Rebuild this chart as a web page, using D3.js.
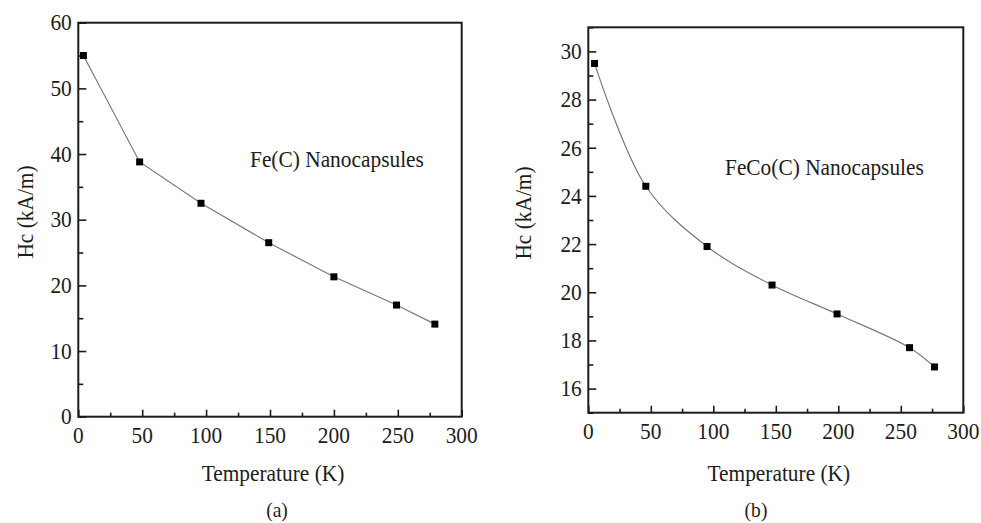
<!DOCTYPE html>
<html>
<head>
<meta charset="utf-8">
<script src="https://cdn.jsdelivr.net/npm/d3@7"></script>
<style>
  html, body { margin: 0; padding: 0; background: #fff; }
  svg { display: block; }
</style>
</head>
<body>
<svg id="chart" width="981" height="523"></svg>
<script>
// Coercivity vs temperature for the two nanocapsule samples
const feTemps = [4, 48, 96, 149, 200, 249, 279];
const feHc = [55.0, 38.8, 32.5, 26.5, 21.3, 17.0, 14.1];

const fecoTemps = [5, 46, 95, 147, 199, 257, 277];
const fecoHc = [29.5, 24.4, 21.9, 20.3, 19.1, 17.7, 16.9];

const tempTicks = [0, 50, 100, 150, 200, 250, 300];
const tempMinorTicks = [25, 75, 125, 175, 225, 275];
const feHcTicks = [0, 10, 20, 30, 40, 50, 60];
const feHcMinorTicks = [5, 15, 25, 35, 45, 55];
const fecoHcTicks = [16, 18, 20, 22, 24, 26, 28, 30];
const fecoHcMinorTicks = [15, 17, 19, 21, 23, 25, 27, 29, 31];

const svg = d3.select("#chart");
const FONT = 23;
const SQUEEZE = 0.93;

// text with a slightly condensed serif face
function label(g, str, x, y, opts = {}) {
  const rot = opts.rotate || 0;
  const t = g.append("text")
    .attr("transform", `translate(${x},${y}) rotate(${rot}) scale(${SQUEEZE},1)`)
    .attr("text-anchor", opts.anchor || "middle")
    .style("font-family", "Liberation Serif")
    .attr("font-size", opts.size || FONT)
    .attr("fill", "#1c1c1c")
    .text(str);
  if (opts.baseline) t.attr("dominant-baseline", opts.baseline);
  return t;
}

function panel(cfg) {
  const g = svg.append("g");
  const x = d3.scaleLinear().domain([0, 300]).range([cfg.left, cfg.right]);
  const y = d3.scaleLinear().domain(cfg.yDomain).range([cfg.bottom, cfg.top]);

  // inward ticks on bottom and left
  const xAxis = d3.axisTop(x).tickValues(tempTicks).tickSize(7).tickFormat("");
  const xMinor = d3.axisTop(x).tickValues(tempMinorTicks).tickSize(4).tickFormat("");
  const yAxis = d3.axisRight(y).tickValues(cfg.yTicks).tickSize(8).tickFormat("");
  const yMinor = d3.axisRight(y).tickValues(cfg.yMinor).tickSize(5).tickFormat("");

  [[xAxis, `translate(0,${cfg.bottom})`], [xMinor, `translate(0,${cfg.bottom})`],
   [yAxis, `translate(${cfg.left},0)`], [yMinor, `translate(${cfg.left},0)`]].forEach(([ax, tr]) => {
    const a = g.append("g").attr("transform", tr).call(ax);
    a.select(".domain").remove();
    a.selectAll("line").attr("stroke", "#1c1c1c").attr("stroke-width", 1.6);
  });

  // frame
  g.append("rect")
    .attr("x", cfg.left).attr("y", cfg.top)
    .attr("width", cfg.right - cfg.left).attr("height", cfg.bottom - cfg.top)
    .attr("fill", "none").attr("stroke", "#1c1c1c").attr("stroke-width", 2);

  // tick labels
  tempTicks.forEach(v => label(g, String(v), x(v), cfg.bottom + 19, { baseline: "central" }));
  cfg.yTicks.forEach(v => label(g, String(v), cfg.left - 6.5, y(v), { anchor: "end", baseline: "central" }));

  // data
  const pts = cfg.temps.map((t, i) => [t, cfg.values[i]]);
  g.append("path")
    .datum(pts)
    .attr("fill", "none")
    .attr("stroke", "#7a7a7a")
    .attr("stroke-width", 1.2)
    .attr("d", d3.line().x(d => x(d[0])).y(d => y(d[1])).curve(cfg.curve));

  const s = 7;
  g.selectAll("rect.pt").data(pts).join("rect")
    .attr("class", "pt")
    .attr("x", d => x(d[0]) - s / 2).attr("y", d => y(d[1]) - s / 2)
    .attr("width", s).attr("height", s)
    .attr("fill", "#000");

  // titles
  label(g, "Temperature (K)", (cfg.left + cfg.right) / 2 + 3, 481);
  label(g, "Hc (kA/m)", cfg.yTitleX, cfg.yTitleY, { rotate: -90 });
  label(g, cfg.name, cfg.nameX, cfg.nameY, { anchor: "start" });
  label(g, cfg.tag, cfg.tagX, 517, { size: 21 });
}

panel({
  left: 78.3, right: 461.7, top: 22.7, bottom: 416.7,
  yDomain: [0, 60], yTicks: feHcTicks, yMinor: feHcMinorTicks,
  temps: feTemps, values: feHc, curve: d3.curveLinear,
  yTitleX: 33, yTitleY: 212,
  name: "Fe(C) Nanocapsules", nameX: 250, nameY: 166.5,
  tag: "(a)", tagX: 277
});

panel({
  left: 588.3, right: 963.3, top: 27.3, bottom: 412.7,
  yDomain: [15, 31], yTicks: fecoHcTicks, yMinor: fecoHcMinorTicks,
  temps: fecoTemps, values: fecoHc, curve: d3.curveCatmullRom.alpha(0.5),
  yTitleX: 531, yTitleY: 213,
  name: "FeCo(C) Nanocapsules", nameX: 725, nameY: 175,
  tag: "(b)", tagX: 756
});
</script>
</body>
</html>
